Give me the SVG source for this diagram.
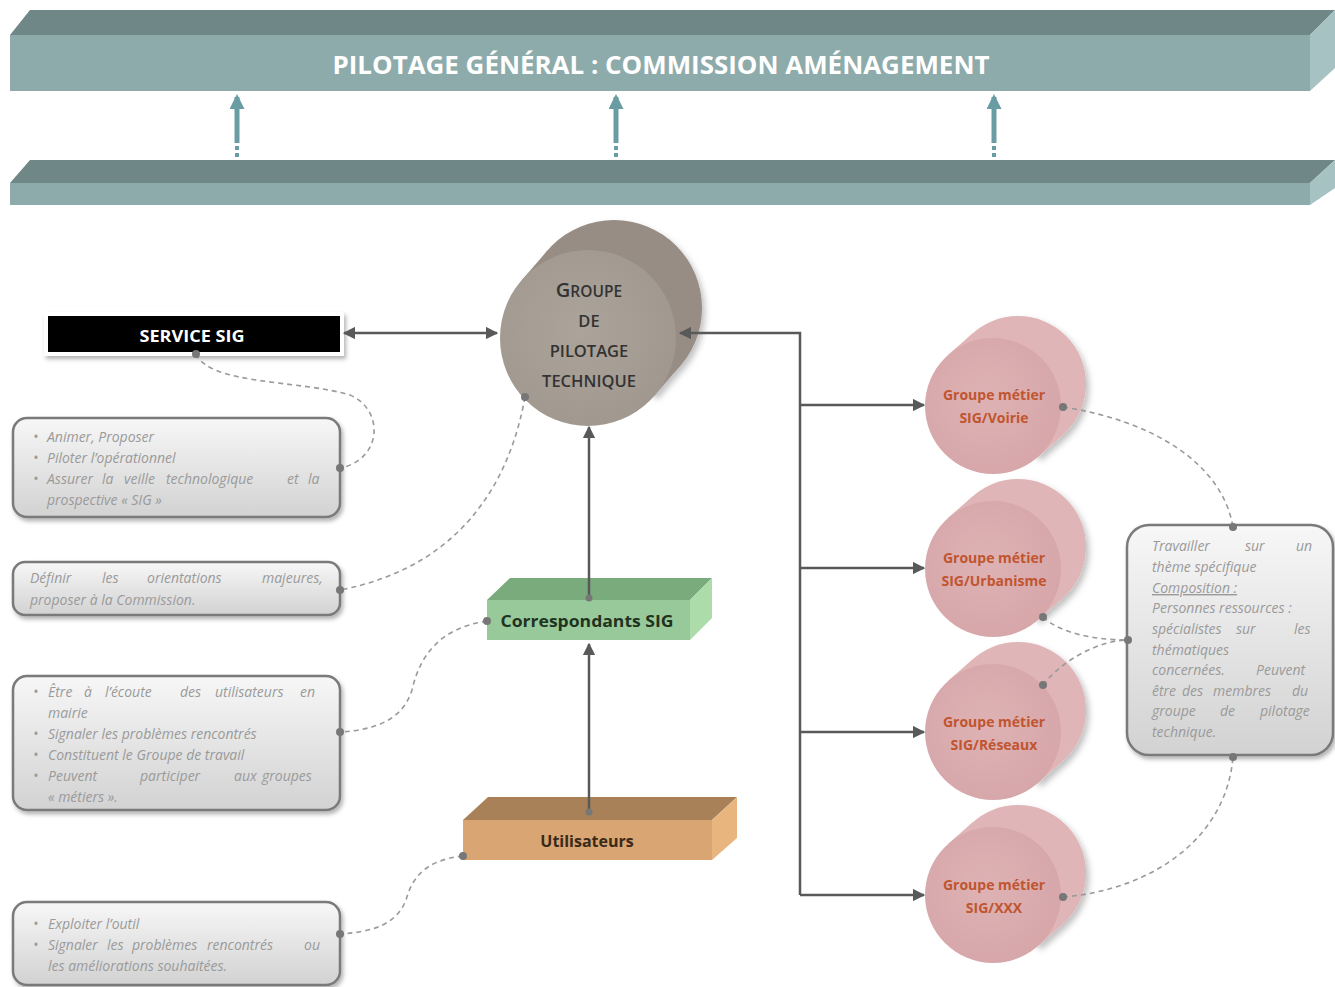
<svg xmlns="http://www.w3.org/2000/svg" width="1335" height="987" viewBox="0 0 1335 987">
<style>
.note{font-family:"Open Sans","Liberation Sans",sans-serif;font-style:italic;font-size:14px;fill:#9a9a9a}
.conn{fill:none;stroke:#595959;stroke-width:2.5}
.dash{fill:none;stroke:#9a9a9a;stroke-width:1.6;stroke-dasharray:5 4}
.dot{fill:#777}
.box{fill:url(#gbox);stroke:#7a7a7a;stroke-width:2.5;filter:url(#sh)}
.pinkt{font-family:"Open Sans","Liberation Sans",sans-serif;font-weight:700;font-size:14px;fill:#c0552f;text-anchor:middle}
.pback{fill:#e0b5b7}
</style>
<defs>
<linearGradient id="gbox" x1="0" y1="0" x2="0" y2="1"><stop offset="0" stop-color="#f7f7f7"/><stop offset="1" stop-color="#d2d2d2"/></linearGradient>
<radialGradient id="gbeige" cx="0.45" cy="0.45" r="0.6"><stop offset="0" stop-color="#aca39a"/><stop offset="1" stop-color="#a0978e"/></radialGradient>
<radialGradient id="gpink" cx="0.45" cy="0.45" r="0.6"><stop offset="0" stop-color="#deb2b4"/><stop offset="1" stop-color="#d6a6a9"/></radialGradient>
<filter id="sh" x="-10%" y="-10%" width="125%" height="130%"><feDropShadow dx="2" dy="3" stdDeviation="2" flood-color="#000" flood-opacity="0.3"/></filter>
<filter id="csh" x="-20%" y="-20%" width="140%" height="140%"><feDropShadow dx="3" dy="4" stdDeviation="3" flood-color="#000" flood-opacity="0.25"/></filter>
<marker id="ah" viewBox="0 0 10 10" refX="9" refY="5" markerWidth="5" markerHeight="5" orient="auto-start-reverse"><path d="M0,0 L10,5 L0,10 z" fill="#595959"/></marker>
<marker id="th" viewBox="0 0 10 10" refX="8" refY="5" markerWidth="3" markerHeight="3" orient="auto"><path d="M0,0 L10,5 L0,10 z" fill="#6a9da3"/></marker>
</defs>

<g id="bar-top">
<polygon points="10,35 30,10 1335,10 1310,35" fill="#6f8787"/>
<rect x="10" y="35" width="1300" height="56" fill="#8eabab"/>
<polygon points="1310,35 1335,10 1335,68 1310,91" fill="#a7c2c2"/>
<text x="661" y="74" font-family="Open Sans, Liberation Sans, sans-serif" font-weight="700" font-size="25" fill="#ffffff" text-anchor="middle" textLength="657" lengthAdjust="spacingAndGlyphs">PILOTAGE GÉNÉRAL : COMMISSION  AMÉNAGEMENT</text>
</g>
<g id="bar-bottom">
<polygon points="10,183 30,160 1335,160 1310,183" fill="#6f8787"/>
<rect x="10" y="183" width="1300" height="22" fill="#8eabab"/>
<polygon points="1310,183 1335,160 1335,188 1310,205" fill="#a7c2c2"/>
</g>

<g id="groupe-pilotage">
<g filter="url(#csh)">
<circle cx="614" cy="308" r="88" fill="#978d84"/>
<polygon points="654.5,395.6 680.5,365.6 547.5,250.4 521.5,280.4" fill="#978d84"/>
</g>
<circle cx="588" cy="338" r="88" fill="url(#gbeige)"/>
<g font-family="Open Sans, Liberation Sans, sans-serif" font-weight="600" fill="#333" text-anchor="middle">
<text x="589" y="297" font-size="15.5"><tspan font-size="20">G</tspan>ROUPE</text>
<text x="589" y="327" font-size="16.5">DE</text>
<text x="589" y="357" font-size="16.5">PILOTAGE</text>
<text x="589" y="387" font-size="16.5">TECHNIQUE</text>
</g>
</g>

<g id="service-sig">
<rect x="44" y="312" width="300" height="44" fill="#fff" filter="url(#sh)"/>
<rect x="48" y="316" width="292" height="36" fill="#000"/>
<text x="192" y="342" font-family="Open Sans, Liberation Sans, sans-serif" font-weight="700" font-size="16" fill="#fff" text-anchor="middle" textLength="105" lengthAdjust="spacingAndGlyphs">SERVICE SIG</text>
</g>

<g id="correspondants">
<polygon points="487,600 510,578 712,578 690,600" fill="#7aab7d"/>
<rect x="487" y="600" width="203" height="40" fill="#98c99a"/>
<polygon points="690,600 712,578 712,618 690,640" fill="#acdcaa"/>
<text x="587" y="627" font-family="Open Sans, Liberation Sans, sans-serif" font-weight="700" font-size="15.5" fill="#1f331f" text-anchor="middle" textLength="173" lengthAdjust="spacingAndGlyphs">Correspondants SIG</text>
</g>

<g id="utilisateurs">
<polygon points="463,820 488,797 737,797 712,820" fill="#a88159"/>
<rect x="463" y="820" width="249" height="40" fill="#d9a572"/>
<polygon points="712,820 737,797 737,838 712,860" fill="#e8b57f"/>
<text x="587" y="847" font-family="Open Sans, Liberation Sans, sans-serif" font-weight="700" font-size="16" fill="#3a2a1a" text-anchor="middle">Utilisateurs</text>
</g>

<g id="gm-voirie">
<g filter="url(#csh)"><circle class="pback" cx="1018" cy="384" r="68"/><polygon class="pback" points="1038,457 1063,435 973,333 948,355"/></g>
<circle cx="993" cy="406" r="68" fill="url(#gpink)"/>
<text class="pinkt" x="994" y="400">Groupe métier</text>
<text class="pinkt" x="994" y="423">SIG/Voirie</text>
</g>
<g id="gm-urbanisme">
<g filter="url(#csh)"><circle class="pback" cx="1018" cy="547" r="68"/><polygon class="pback" points="1038,620 1063,598 973,496 948,518"/></g>
<circle cx="993" cy="569" r="68" fill="url(#gpink)"/>
<text class="pinkt" x="994" y="563">Groupe métier</text>
<text class="pinkt" x="994" y="586">SIG/Urbanisme</text>
</g>
<g id="gm-reseaux">
<g filter="url(#csh)"><circle class="pback" cx="1018" cy="710" r="68"/><polygon class="pback" points="1038,783 1063,761 973,659 948,681"/></g>
<circle cx="993" cy="732" r="68" fill="url(#gpink)"/>
<text class="pinkt" x="994" y="727">Groupe métier</text>
<text class="pinkt" x="994" y="750">SIG/Réseaux</text>
</g>
<g id="gm-xxx">
<g filter="url(#csh)"><circle class="pback" cx="1018" cy="873" r="68"/><polygon class="pback" points="1038,946 1063,924 973,822 948,844"/></g>
<circle cx="993" cy="895" r="68" fill="url(#gpink)"/>
<text class="pinkt" x="994" y="890">Groupe métier</text>
<text class="pinkt" x="994" y="913">SIG/XXX</text>
</g>

<g id="note-service">
<rect class="box" x="13" y="418" width="327" height="99" rx="14"/>
<text class="note" y="442"><tspan x="33">•</tspan><tspan x="47">Animer, Proposer</tspan></text>
<text class="note" y="463"><tspan x="33">•</tspan><tspan x="47">Piloter l’opérationnel</tspan></text>
<text class="note" y="484"><tspan x="33">•</tspan><tspan x="47">Assurer</tspan><tspan x="102">la</tspan><tspan x="124">veille</tspan><tspan x="166">technologique</tspan><tspan x="287">et</tspan><tspan x="308">la</tspan></text>
<text class="note" x="47" y="505">prospective « SIG »</text>
</g>
<g id="note-pilotage">
<rect class="box" x="13" y="562" width="327" height="53" rx="12"/>
<text class="note" y="583"><tspan x="30">Définir</tspan><tspan x="102">les</tspan><tspan x="147">orientations</tspan><tspan x="262">majeures,</tspan></text>
<text class="note" x="30" y="605">proposer à la Commission.</text>
</g>
<g id="note-correspondants">
<rect class="box" x="13" y="676" width="327" height="134" rx="14"/>
<text class="note" y="697"><tspan x="33">•</tspan><tspan x="48">Être</tspan><tspan x="84">à</tspan><tspan x="105">l’écoute</tspan><tspan x="180">des</tspan><tspan x="215">utilisateurs</tspan><tspan x="300">en</tspan></text>
<text class="note" x="48" y="718">mairie</text>
<text class="note" y="739"><tspan x="33">•</tspan><tspan x="48">Signaler les problèmes rencontrés</tspan></text>
<text class="note" y="760"><tspan x="33">•</tspan><tspan x="48">Constituent le Groupe de travail</tspan></text>
<text class="note" y="781"><tspan x="33">•</tspan><tspan x="48">Peuvent</tspan><tspan x="140">participer</tspan><tspan x="234">aux</tspan><tspan x="262">groupes</tspan></text>
<text class="note" x="48" y="802">« métiers ».</text>
</g>
<g id="note-utilisateurs">
<rect class="box" x="13" y="902" width="327" height="83" rx="14"/>
<text class="note" y="929"><tspan x="33">•</tspan><tspan x="48">Exploiter l’outil</tspan></text>
<text class="note" y="950"><tspan x="33">•</tspan><tspan x="48">Signaler</tspan><tspan x="107">les</tspan><tspan x="132">problèmes</tspan><tspan x="207">rencontrés</tspan><tspan x="304">ou</tspan></text>
<text class="note" x="48" y="971">les améliorations souhaitées.</text>
</g>
<g id="note-metiers">
<rect class="box" x="1127" y="525" width="206" height="230" rx="22"/>
<text class="note" y="551"><tspan x="1152">Travailler</tspan><tspan x="1245">sur</tspan><tspan x="1296">un</tspan></text>
<text class="note" x="1152" y="572">thème spécifique</text>
<text class="note" x="1152" y="593" text-decoration="underline">Composition :</text>
<text class="note" x="1152" y="613" font-style="normal" fill="#7a7a7a">Personnes ressources :</text>
<text class="note" y="634"><tspan x="1152">spécialistes</tspan><tspan x="1236">sur</tspan><tspan x="1294">les</tspan></text>
<text class="note" x="1152" y="655">thématiques</text>
<text class="note" y="675"><tspan x="1152">concernées.</tspan><tspan x="1256">Peuvent</tspan></text>
<text class="note" y="696"><tspan x="1152">être</tspan><tspan x="1182">des</tspan><tspan x="1213">membres</tspan><tspan x="1292">du</tspan></text>
<text class="note" y="716"><tspan x="1152">groupe</tspan><tspan x="1220">de</tspan><tspan x="1260">pilotage</tspan></text>
<text class="note" x="1152" y="737">technique.</text>
</g>

<g id="connectors">
<g stroke="#6a9da3" stroke-width="5" fill="none">
<line x1="237" y1="143" x2="237" y2="97" marker-end="url(#th)"/>
<line x1="616" y1="143" x2="616" y2="97" marker-end="url(#th)"/>
<line x1="994" y1="143" x2="994" y2="97" marker-end="url(#th)"/>
<path d="M237,146v4M237,153v4M616,146v4M616,153v4M994,146v4M994,153v4" stroke-width="4"/>
</g>
<line class="conn" x1="344" y1="333" x2="497" y2="333" marker-start="url(#ah)" marker-end="url(#ah)"/>
<polyline class="conn" points="800,895 800,333 680,333" marker-end="url(#ah)"/>
<line class="conn" x1="800" y1="405" x2="924" y2="405" marker-end="url(#ah)"/>
<line class="conn" x1="800" y1="568" x2="924" y2="568" marker-end="url(#ah)"/>
<line class="conn" x1="800" y1="732" x2="924" y2="732" marker-end="url(#ah)"/>
<line class="conn" x1="800" y1="895" x2="924" y2="895" marker-end="url(#ah)"/>
<line class="conn" x1="589" y1="598" x2="589" y2="427" marker-end="url(#ah)"/>
<line class="conn" x1="589" y1="812" x2="589" y2="644" marker-end="url(#ah)"/>
<path class="dash" d="M196,354 C210,385 300,380 350,395 C385,410 382,460 340,468"/>
<path class="dash" d="M525,397 C512,470 470,565 340,590"/>
<path class="dash" d="M487,621 C440,628 420,655 412,690 C402,722 372,730 340,732"/>
<path class="dash" d="M463,856 C425,860 412,878 406,900 C396,925 372,932 340,934"/>
<path class="dash" d="M1063,407 C1150,420 1222,462 1233,527"/>
<path class="dash" d="M1043,617 C1062,635 1100,640 1128,640"/>
<path class="dash" d="M1043,685 C1062,660 1100,640 1128,640"/>
<path class="dash" d="M1063,897 C1150,890 1226,840 1233,757"/>
</g>

<g id="dots">
<circle class="dot" cx="196" cy="354" r="4"/>
<circle class="dot" cx="340" cy="468" r="4"/>
<circle class="dot" cx="525" cy="397" r="4"/>
<circle class="dot" cx="340" cy="590" r="4"/>
<circle class="dot" cx="487" cy="621" r="4"/>
<circle class="dot" cx="340" cy="732" r="4"/>
<circle class="dot" cx="463" cy="856" r="4"/>
<circle class="dot" cx="340" cy="934" r="4"/>
<circle class="dot" cx="589" cy="598" r="3.5"/>
<circle class="dot" cx="589" cy="812" r="3.5"/>
<circle class="dot" cx="1063" cy="407" r="4"/>
<circle class="dot" cx="1043" cy="617" r="4"/>
<circle class="dot" cx="1043" cy="685" r="4"/>
<circle class="dot" cx="1063" cy="897" r="4"/>
<circle class="dot" cx="1233" cy="527" r="4"/>
<circle class="dot" cx="1128" cy="640" r="4"/>
<circle class="dot" cx="1233" cy="757" r="4"/>
</g>
</svg>
